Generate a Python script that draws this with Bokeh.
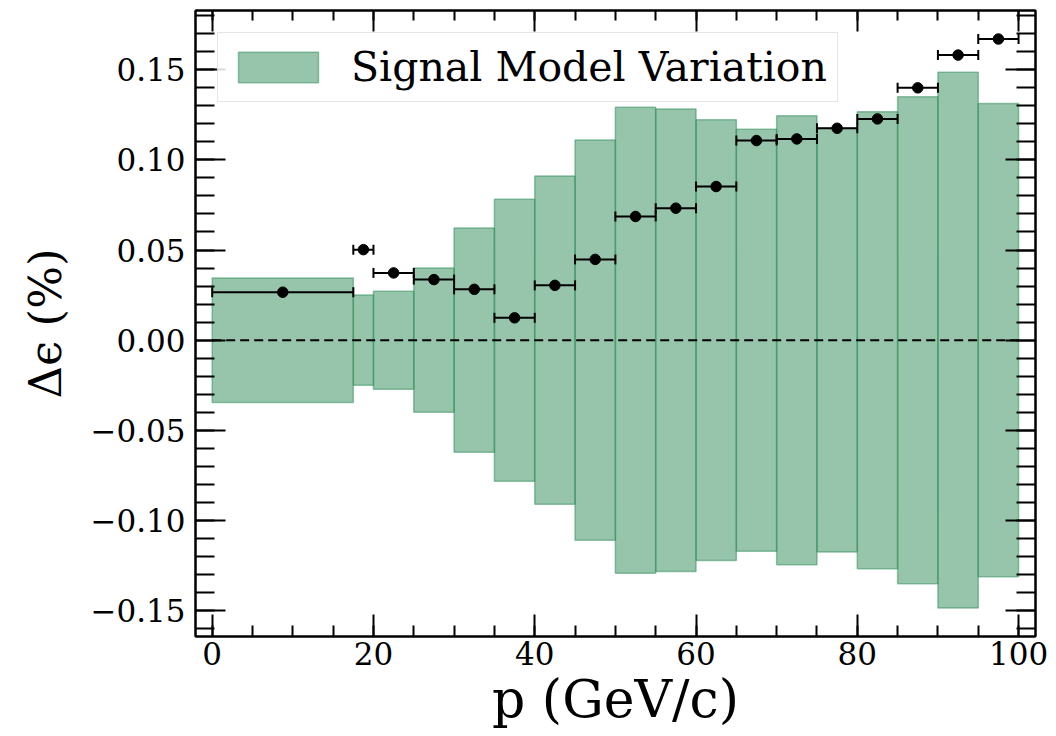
from bokeh.plotting import figure
from bokeh.models import (ColumnDataSource, Range1d, LinearAxis, FixedTicker,
                          CustomJSTickFormatter, Whisker, TeeHead, Legend, LegendItem)
from bokeh.embed import file_html
from bokeh.resources import INLINE
import numpy as np

# ---- data ----
bin_low = [0, 17.5, 20, 25, 30, 35, 40, 45, 50, 55, 60, 65, 70, 75, 80, 85, 90, 95]
bin_high = [17.5, 20, 25, 30, 35, 40, 45, 50, 55, 60, 65, 70, 75, 80, 85, 90, 95, 100]
signal_var = [0.0345, 0.0250, 0.0272, 0.0400, 0.0622, 0.0782, 0.0910, 0.1110, 0.1292,
              0.1282, 0.1222, 0.1170, 0.1245, 0.1175, 0.1267, 0.1350, 0.1485, 0.1312]
delta_eff = [0.0266, 0.0502, 0.0373, 0.0336, 0.0282, 0.0124, 0.0304, 0.0448, 0.0686,
             0.0732, 0.0852, 0.1107, 0.1116, 0.1175, 0.1227, 0.1399, 0.1581, 0.1670]
x_major_ticks = [0, 20, 40, 60, 80, 100]
y_major_ticks = [-0.15, -0.10, -0.05, 0.0, 0.05, 0.10, 0.15]

centers = [(a + b) / 2 for a, b in zip(bin_low, bin_high)]
band_src = ColumnDataSource(dict(left=bin_low, right=bin_high,
                                 top=signal_var, bottom=[-v for v in signal_var]))
pt_src = ColumnDataSource(dict(x=centers, y=delta_eff, lo=bin_low, hi=bin_high))

FONT = "DejaVu Serif"

p = figure(width=1056, height=736, output_backend="svg", toolbar_location=None,
           x_range=Range1d(-2.07, 102.1), y_range=Range1d(-0.1643, 0.1828),
           min_border_left=195, min_border_right=21, min_border_top=10, min_border_bottom=100)
p.background_fill_color = "white"
p.border_fill_color = "white"
p.outline_line_color = "black"
p.outline_line_width = 2
p.xgrid.visible = False
p.ygrid.visible = False

q = p.quad(left="left", right="right", top="top", bottom="bottom", source=band_src,
           fill_color="#2e8b57", fill_alpha=0.5, line_color="#2e8b57", line_alpha=0.5,
           line_width=1.5)

p.segment(x0=bin_low[0], x1=bin_high[-1], y0=0, y1=0, line_color="black",
          line_width=2, line_dash="9 5")

wh = Whisker(source=pt_src, base="y", lower="lo", upper="hi", dimension="width",
             line_color="black", line_width=2, level="overlay",
             upper_head=TeeHead(size=10, line_width=2, line_color="black"),
             lower_head=TeeHead(size=10, line_width=2, line_color="black"))
p.add_layout(wh)
pts = p.scatter("x", "y", source=pt_src, size=10.5, color="black")
pts.level = "overlay"

# ---- axes ----
x_minor = list(np.arange(0, 101, 5))
y_minor = [round(v, 2) for v in np.arange(-0.16, 0.185, 0.01)]
xt = FixedTicker(ticks=x_major_ticks, minor_ticks=x_minor)
yt = FixedTicker(ticks=y_major_ticks, minor_ticks=y_minor)
yfmt = CustomJSTickFormatter(code="return (tick < -1e-9 ? '\u2212' : '') + Math.abs(tick).toFixed(2);")

def style(ax, major_in, minor_in, labels=True):
    ax.major_tick_in = major_in
    ax.minor_tick_in = minor_in
    ax.major_tick_out = 0
    ax.minor_tick_out = 0
    ax.major_tick_line_width = 2
    ax.minor_tick_line_width = 2
    ax.major_tick_line_color = "black"
    ax.minor_tick_line_color = "black"
    ax.axis_line_width = 2
    ax.axis_line_color = "black"
    ax.major_label_text_font = FONT
    ax.major_label_text_font_size = "31px"
    ax.major_label_text_color = "black"
    if not labels:
        ax.major_label_text_font_size = "0px"
        ax.major_label_text_alpha = 0

xa = p.xaxis[0]
xa.ticker = xt
style(xa, 22, 11)
xa.major_label_standoff = 5
xa.axis_label = "p (GeV/c)"
xa.axis_label_text_font = FONT
xa.axis_label_text_font_size = "52px"
xa.axis_label_text_font_style = "normal"
xa.axis_label_text_color = "black"
xa.axis_label_standoff = 1

ya = p.yaxis[0]
ya.ticker = yt
ya.formatter = yfmt
style(ya, 30, 19)
ya.major_label_standoff = 10
ya.axis_label = "Δϵ (%)"
ya.axis_label_text_font = FONT
ya.axis_label_text_font_size = "45px"
ya.axis_label_text_font_style = "normal"
ya.axis_label_text_color = "black"
ya.axis_label_standoff = 16

top_ax = LinearAxis(ticker=FixedTicker(ticks=x_major_ticks, minor_ticks=x_minor))
style(top_ax, 21, 10, labels=False)
p.add_layout(top_ax, "above")
right_ax = LinearAxis(ticker=FixedTicker(ticks=y_major_ticks, minor_ticks=y_minor))
style(right_ax, 30, 19, labels=False)
p.add_layout(right_ax, "right")

# ---- legend ----
leg = Legend(items=[LegendItem(label="Signal Model Variation", renderers=[q])],
             location="top_left", margin=22, padding=10, spacing=0,
             glyph_width=100, glyph_height=38, label_standoff=23,
             label_text_font=FONT, label_text_font_size="41px", label_text_color="black",
             border_line_color="#cccccc", border_line_width=1.5,
             background_fill_color="white", background_fill_alpha=0.85)
p.add_layout(leg)

open("out.html", "w").write(file_html(p, INLINE))
